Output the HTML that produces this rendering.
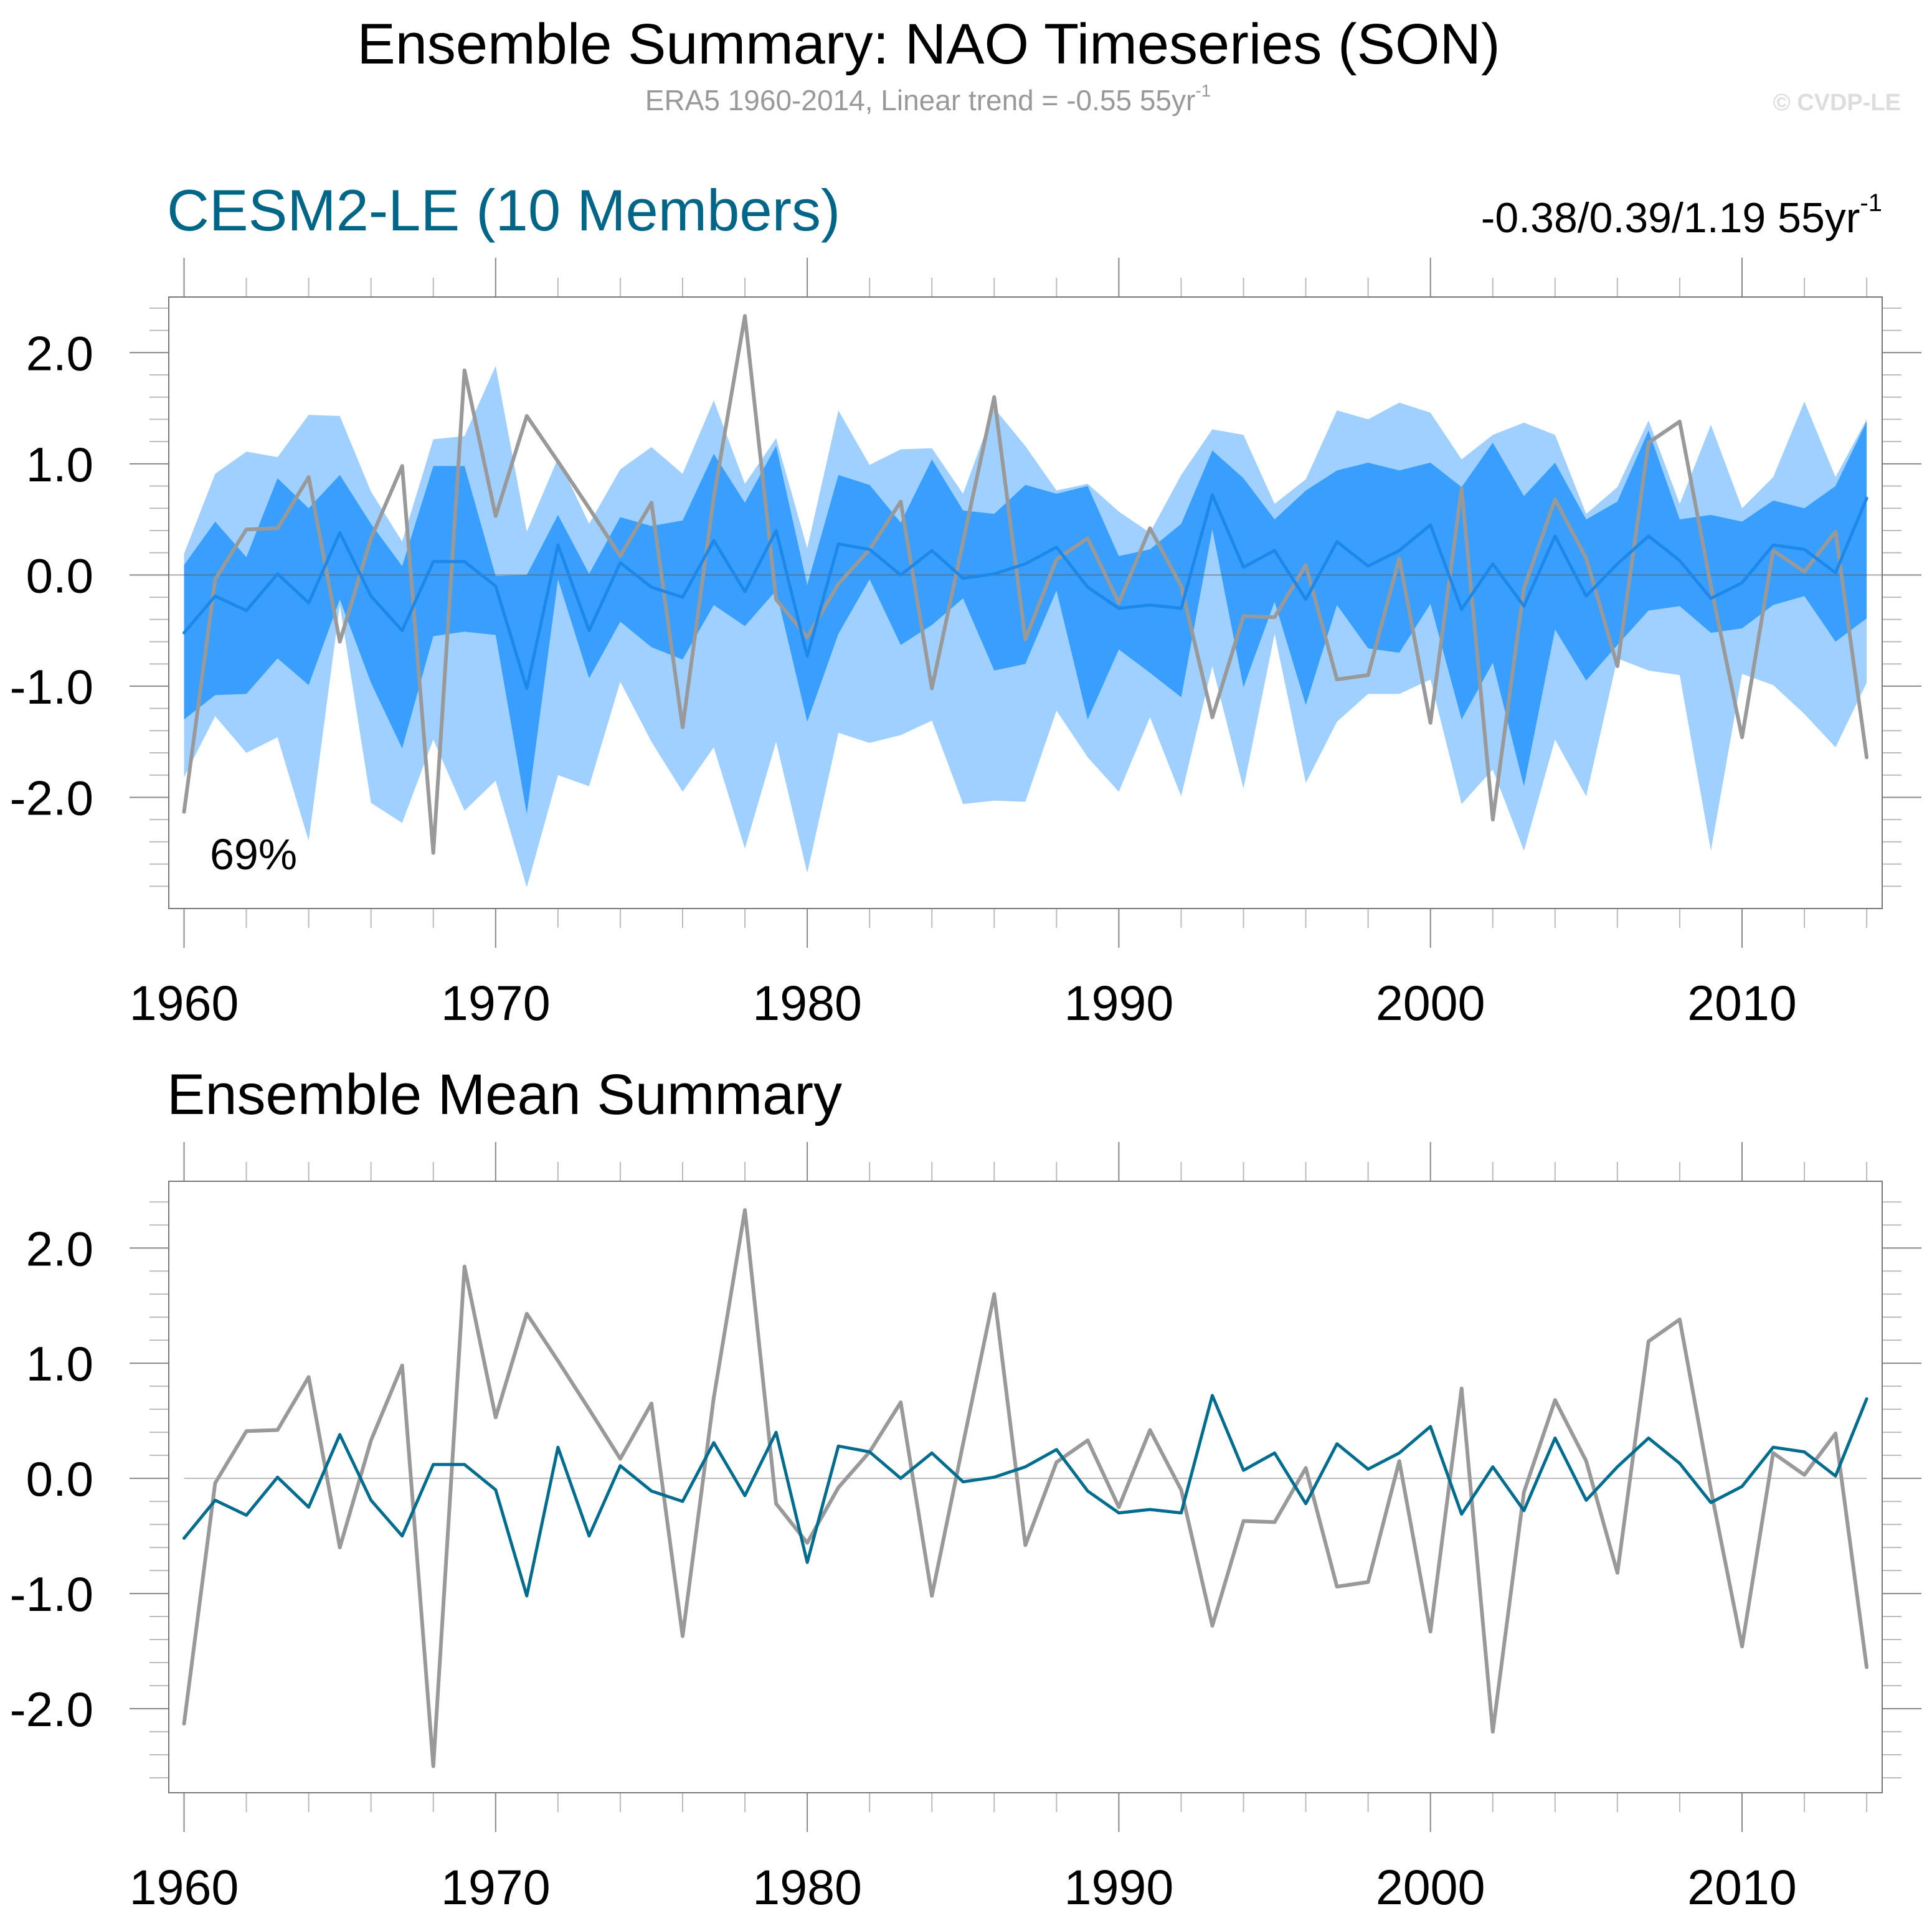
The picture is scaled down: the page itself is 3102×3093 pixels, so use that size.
<!DOCTYPE html>
<html><head><meta charset="utf-8"><style>
html,body{margin:0;padding:0;background:#fff;}
svg{display:block;font-family:"Liberation Sans",Arial,sans-serif;}
</style></head><body>
<svg id="chart" xmlns="http://www.w3.org/2000/svg" width="3102" height="3093" viewBox="0 0 3102 3093">
<rect x="0" y="0" width="3102" height="3093" fill="#fff"/>
<text x="1491" y="102" font-size="92" text-anchor="middle" fill="#000">Ensemble Summary: NAO Timeseries (SON)</text>
<text x="1490" y="177" font-size="46" text-anchor="middle" fill="#999">ERA5 1960-2014, Linear trend = -0.55 55yr<tspan font-size="28" dy="-22">-1</tspan></text>
<text x="3052" y="177" font-size="38" font-weight="bold" text-anchor="end" fill="#ddd">© CVDP-LE</text>
<text x="268" y="370" font-size="94" fill="#006688">CESM2-LE (10 Members)</text>
<text x="3022" y="373" font-size="68" text-anchor="end" fill="#000">-0.38/0.39/1.19 55yr<tspan font-size="40" dy="-34">-1</tspan></text>
<text x="268" y="1789" font-size="92" fill="#000">Ensemble Mean Summary</text>
<g id="top"></g>
<g id="bot"></g>
<text x="337" y="1396" font-size="70" fill="#000">69%</text>
</svg>
<script>
const years = [];
for (let y = 1960; y <= 2014; y++) years.push(y);
const era5 = [-2.13,-0.04,0.41,0.42,0.88,-0.6,0.33,0.98,-2.5,1.84,0.53,1.43,1.02,0.6,0.17,0.65,-1.37,0.7,2.33,-0.22,-0.56,-0.08,0.23,0.66,-1.02,0.3,1.6,-0.58,0.14,0.33,-0.25,0.42,-0.1,-1.28,-0.37,-0.38,0.09,-0.94,-0.9,0.15,-1.33,0.78,-2.2,-0.12,0.68,0.15,-0.82,1.19,1.38,-0.1,-1.46,0.22,0.03,0.39,-1.64];
const ensMean = [-0.52,-0.19,-0.32,0.01,-0.25,0.38,-0.19,-0.5,0.12,0.12,-0.1,-1.02,0.27,-0.5,0.11,-0.11,-0.2,0.31,-0.15,0.4,-0.73,0.28,0.23,0.0,0.22,-0.03,0.01,0.1,0.25,-0.11,-0.3,-0.27,-0.3,0.72,0.07,0.22,-0.22,0.3,0.08,0.22,0.45,-0.31,0.1,-0.28,0.35,-0.19,0.1,0.35,0.13,-0.21,-0.07,0.27,0.23,0.02,0.69];
const ensMax = [0.19,0.91,1.11,1.06,1.44,1.43,0.75,0.3,1.22,1.25,1.88,0.39,1.05,0.46,0.95,1.15,0.91,1.57,0.82,1.23,0.24,1.48,0.99,1.13,1.14,0.73,1.5,1.16,0.76,0.82,0.57,0.38,0.9,1.31,1.26,0.64,0.86,1.48,1.4,1.55,1.46,1.04,1.26,1.37,1.26,0.55,0.79,1.39,0.64,1.35,0.6,0.88,1.56,0.88,1.4];
const ensP90 = [0.09,0.48,0.16,0.87,0.6,0.9,0.46,0.08,0.98,0.98,-0.01,0.0,0.54,0.01,0.52,0.44,0.49,1.09,0.65,1.16,-0.09,0.9,0.81,0.47,1.04,0.58,0.55,0.81,0.73,0.8,0.17,0.23,0.46,1.12,0.87,0.5,0.76,0.94,1.01,0.94,1.01,0.79,1.19,0.71,1.01,0.5,0.66,1.3,0.5,0.54,0.48,0.67,0.6,0.8,1.38];
const ensP10 = [-1.3,-1.08,-1.07,-0.75,-0.99,-0.22,-0.97,-1.56,-0.55,-0.51,-0.54,-2.15,-0.04,-0.93,-0.42,-0.65,-0.76,-0.27,-0.46,-0.14,-1.32,-0.53,-0.04,-0.63,-0.45,-0.21,-0.86,-0.8,-0.14,-1.3,-0.67,-0.88,-1.1,0.41,-1.01,-0.24,-1.17,-0.27,-0.66,-0.7,-0.26,-1.3,-0.79,-1.9,-0.49,-0.95,-0.63,-0.32,-0.28,-0.52,-0.48,-0.27,-0.19,-0.6,-0.39];
const ensMin = [-1.82,-1.27,-1.6,-1.46,-2.39,-0.27,-2.05,-2.23,-1.48,-2.12,-1.85,-2.81,-1.8,-1.9,-0.96,-1.5,-1.95,-1.55,-2.46,-1.5,-2.68,-1.42,-1.51,-1.44,-1.31,-2.06,-2.03,-2.04,-1.22,-1.64,-1.95,-1.28,-1.99,-0.82,-1.92,-0.53,-1.87,-1.32,-1.07,-1.07,-0.94,-2.06,-1.75,-2.48,-1.48,-1.99,-0.75,-0.86,-0.9,-2.48,-0.89,-0.99,-1.25,-1.55,-0.97];
const yTickLabels = ["-2.0","-1.0","0.0","1.0","2.0"];
const xTickLabels = ["1960","1970","1980","1990","2000","2010"];

const NS = "http://www.w3.org/2000/svg";
function mk(parent, tag, attrs) {
  const e = document.createElementNS(NS, tag);
  for (const k in attrs) e.setAttribute(k, attrs[k]);
  parent.appendChild(e);
  return e;
}
const X0 = 271, X1 = 3022;
function xs(yr) { return 295.5 + (yr - 1960) * 50.03; }

function panel(g, top, bottom, vmin, vmax, labelY, prefix) {
  const ys = v => top + (vmax - v) / (vmax - vmin) * (bottom - top);
  for (let k = Math.ceil(vmin * 5 + 0.01); k <= Math.floor(vmax * 5 - 0.01); k++) {
    const v = k / 5, major = (k % 5 === 0), len = major ? 63 : 31, y = ys(v);
    const t1 = mk(g, "line", {x1: X0 - len, x2: X0, y1: y, y2: y, stroke: major ? "#888" : "#bbb", "stroke-width": 2});
    
    
    const t2 = mk(g, "line", {x1: X1, x2: X1 + len, y1: y, y2: y, stroke: major ? "#888" : "#bbb", "stroke-width": 2});
    
    
  }
  yTickLabels.forEach(s => {
    const v = parseFloat(s);
    const t = mk(g, "text", {x: 150, y: ys(v) + 28, "font-size": 78, "text-anchor": "end", fill: "#000"});
    t.textContent = s;
    
    
  });
  for (let yr = 1960; yr <= 2014; yr += 2) {
    const major = (yr % 10 === 0), len = major ? 63 : 31, x = xs(yr);
    const a = mk(g, "line", {x1: x, x2: x, y1: top - len, y2: top, stroke: major ? "#888" : "#bbb", "stroke-width": 2});
    
    
    const b = mk(g, "line", {x1: x, x2: x, y1: bottom, y2: bottom + len, stroke: major ? "#888" : "#bbb", "stroke-width": 2});
    
    
  }
  xTickLabels.forEach(s => {
    const t = mk(g, "text", {x: xs(parseInt(s)), y: labelY, "font-size": 79, "text-anchor": "middle", fill: "#000"});
    t.textContent = s;
    
    
  });
  return ys;
}
function band(g, upper, lower, ys, fill, name) {
  let d = "M";
  years.forEach((yr, i) => { d += (i ? " L" : "") + xs(yr).toFixed(1) + "," + ys(upper[i]).toFixed(1); });
  for (let i = years.length - 1; i >= 0; i--) d += " L" + xs(years[i]).toFixed(1) + "," + ys(lower[i]).toFixed(1);
  const p = mk(g, "path", {d: d + " Z", fill: fill});
  
  
}
function line(g, vals, ys, color, w, name) {
  const pts = years.map((yr, i) => xs(yr).toFixed(1) + "," + ys(vals[i]).toFixed(1)).join(" ");
  const p = mk(g, "polyline", {points: pts, fill: "none", stroke: color, "stroke-width": w, "stroke-linejoin": "round", "stroke-linecap": "round"});
  
  
}

const gt = document.getElementById("top");
const ysT = panel(gt, 477, 1459, -3.0, 2.5, 1638, "top");
band(gt, ensMax, ensMin, ysT, "#9fd0ff", "min-max-band");
band(gt, ensP90, ensP10, ysT, "#389fff", "p10-p90-band");
const z1 = mk(gt, "line", {x1: X0, x2: X1, y1: ysT(0), y2: ysT(0), stroke: "#555", "stroke-opacity": 0.5, "stroke-width": 2});


line(gt, era5, ysT, "#999", 6, "top-era5-line");
line(gt, ensMean, ysT, "#1e88ea", 5, "top-ensemble-mean-line");
const f1 = mk(gt, "rect", {x: X0, y: 477, width: X1 - X0, height: 1459 - 477, fill: "none", stroke: "#777", "stroke-width": 2});



const gb = document.getElementById("bot");
const ysB = panel(gb, 1897, 2879, -2.73, 2.58, 3058, "bottom");
const z2 = mk(gb, "line", {x1: xs(1960), x2: xs(2014), y1: ysB(0), y2: ysB(0), stroke: "#bbb", "stroke-width": 2});


line(gb, era5, ysB, "#999", 6, "bottom-era5-line");
line(gb, ensMean, ysB, "#006d8f", 5, "bottom-ensemble-mean-line");
const f2 = mk(gb, "rect", {x: X0, y: 1897, width: X1 - X0, height: 2879 - 1897, fill: "none", stroke: "#777", "stroke-width": 2});


</script>
</body></html>
